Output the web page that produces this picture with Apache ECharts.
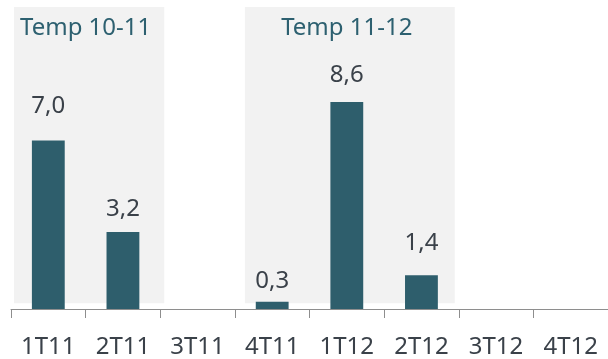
<!DOCTYPE html>
<html>
<head>
<meta charset="utf-8">
<script src="https://cdn.jsdelivr.net/npm/echarts@6/dist/echarts.min.js"></script>
<style>
  html, body { margin: 0; padding: 0; background: #ffffff; }
  #chart { width: 608px; height: 359px; }
</style>
</head>
<body>
<div id="chart"></div>
<script>
// Quarters on the x axis
const categories = ['1T11', '2T11', '3T11', '4T11', '1T12', '2T12', '3T12', '4T12'];
// Quarterly values (empty quarters have no bar)
const values = [7.0, 3.2, null, 0.3, 8.6, 1.4, null, null];

// Season panels: first and last quarter covered, and their headings
const seasonNames = ['Temp 10-11', 'Temp 11-12'];
const seasonFirst = ['1T11', '4T11'];
const seasonLast = ['2T11', '2T12'];

// Panel drawing details (pixel nudges of the left / right panel edges)
const PANEL_EDGE = [[3, 4], [10, -4]];
const PANEL_TOP_VALUE = 12.55;
const PANEL_BOTTOM_VALUE = 0.24;
// Gap between each bar and its value label, in pixels
const LABEL_GAP = [22, 11, 0, 9, 15, 20, 0, 0];
const FONT = '"Noto Sans", "Open Sans", sans-serif';

const fmt = v => v.toFixed(1).replace('.', ',');

const chart = echarts.init(document.getElementById('chart'), null, { renderer: 'canvas' });

chart.setOption({
  animation: false,
  backgroundColor: '#ffffff',
  grid: { left: 11, right: -5, top: 1, bottom: 50, containLabel: false },
  xAxis: {
    type: 'category',
    data: categories,
    boundaryGap: true,
    axisLine: { show: true, lineStyle: { color: '#8e8e8e', width: 1 } },
    axisTick: { show: true, length: 9, alignWithLabel: false, lineStyle: { color: '#8e8e8e' } },
    axisLabel: { margin: 26, fontSize: 24, color: '#3a4149', fontFamily: FONT, interval: 0 },
    splitLine: { show: false }
  },
  yAxis: {
    type: 'value',
    min: 0,
    max: 12.8,
    show: false,
    splitLine: { show: false }
  },
  series: [
    {
      // grey season panels with their headings
      type: 'custom',
      z: 1,
      silent: true,
      clip: false,
      data: seasonNames.map((n, i) => [categories.indexOf(seasonFirst[i]), categories.indexOf(seasonLast[i])]),
      renderItem: function (params, api) {
        const i = params.dataIndex;
        const a = api.value(0), b = api.value(1);
        const w = api.size([1, 0])[0];
        const top = api.coord([a, PANEL_TOP_VALUE])[1];
        const bottom = api.coord([a, PANEL_BOTTOM_VALUE])[1];
        const xa = api.coord([a, 0])[0];
        const xb = api.coord([b, 0])[0];
        const left = xa - w / 2 + PANEL_EDGE[i][0];
        const right = xb + w / 2 + PANEL_EDGE[i][1];
        return {
          type: 'group',
          children: [
            {
              type: 'rect',
              shape: { x: left, y: top, width: right - left, height: bottom - top },
              style: { fill: '#f2f2f2' }
            },
            {
              type: 'text',
              style: {
                text: seasonNames[i],
                x: (xa + xb) / 2,
                y: top + 21,
                align: 'center',
                verticalAlign: 'middle',
                font: '24px ' + FONT,
                fill: '#2d6070'
              }
            }
          ]
        };
      }
    },
    {
      type: 'bar',
      z: 2,
      data: values.map((v, i) => ({ value: v, label: { distance: LABEL_GAP[i] } })),
      barWidth: '44%',
      itemStyle: { color: '#2e5e6c' },
      label: {
        show: true,
        position: 'top',
        fontSize: 24,
        color: '#3a4149',
        fontFamily: FONT,
        formatter: p => fmt(p.value)
      }
    }
  ]
});
</script>
</body>
</html>
